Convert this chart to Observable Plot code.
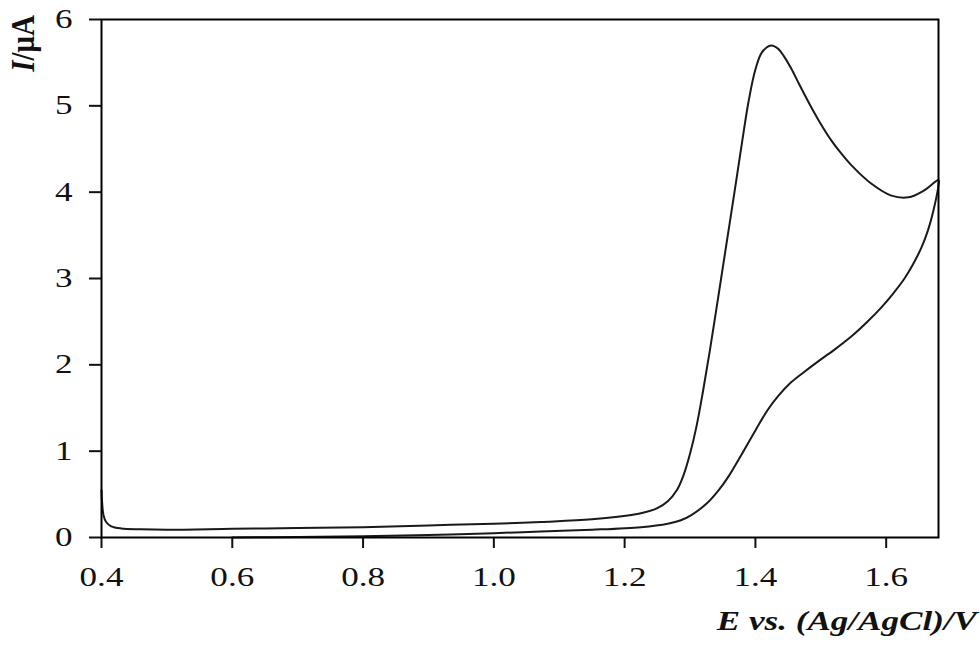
<!DOCTYPE html>
<html><head><meta charset="utf-8">
<script src="https://cdn.jsdelivr.net/npm/d3@7"></script>
<script src="https://cdn.jsdelivr.net/npm/@observablehq/plot@0.6"></script>
<style>body{margin:0;background:#fff}</style>
</head><body><div id="chart"></div>
<script>
// Forward (anodic) scan, 0.4 -> 1.68 V
const forwardE = [0.400, 0.401, 0.403, 0.407, 0.415, 0.430, 0.460, 0.500, 0.600, 0.700, 0.800, 0.900, 1.000, 1.072, 1.150, 1.225, 1.250, 1.266, 1.280, 1.290, 1.300, 1.310, 1.320, 1.330, 1.340, 1.350, 1.360, 1.370, 1.380, 1.390, 1.400, 1.410, 1.424, 1.435, 1.444, 1.455, 1.467, 1.485, 1.500, 1.516, 1.530, 1.547, 1.577, 1.608, 1.634, 1.658, 1.680];
const forwardI = [0.55, 0.40, 0.26, 0.18, 0.13, 0.105, 0.095, 0.09, 0.10, 0.11, 0.12, 0.14, 0.16, 0.18, 0.21, 0.28, 0.34, 0.42, 0.55, 0.72, 0.97, 1.29, 1.70, 2.15, 2.63, 3.12, 3.61, 4.10, 4.60, 5.07, 5.42, 5.62, 5.70, 5.66, 5.57, 5.43, 5.25, 4.99, 4.79, 4.60, 4.46, 4.31, 4.10, 3.96, 3.94, 4.02, 4.14];
// Reverse scan, 1.68 -> 0.6 V
const reverseE = [1.680, 1.672, 1.664, 1.654, 1.640, 1.628, 1.610, 1.592, 1.570, 1.547, 1.520, 1.496, 1.475, 1.455, 1.435, 1.419, 1.400, 1.378, 1.360, 1.343, 1.325, 1.302, 1.286, 1.266, 1.225, 1.150, 1.072, 1.000, 0.900, 0.800, 0.700, 0.600];
const reverseI = [4.08, 3.78, 3.56, 3.36, 3.15, 3.00, 2.82, 2.66, 2.49, 2.33, 2.17, 2.04, 1.92, 1.80, 1.64, 1.48, 1.24, 0.95, 0.72, 0.54, 0.39, 0.26, 0.20, 0.16, 0.12, 0.09, 0.07, 0.05, 0.03, 0.015, 0.005, 0.0];
const xTicks = [0.4, 0.6, 0.8, 1.0, 1.2, 1.4, 1.6];
const yTicks = [0, 1, 2, 3, 4, 5, 6];

const data = [
  ...forwardE.map((e, i) => ({E: e, I: forwardI[i]})),
  ...reverseE.map((e, i) => ({E: e, I: reverseI[i]}))
];

const font = '"Liberation Serif","Times New Roman",serif';
const chart = Plot.plot({
  width: 980, height: 647,
  marginLeft: 101, marginRight: 42, marginTop: 19, marginBottom: 110,
  style: {fontFamily: font, fontSize: "27px", color: "#111", background: "#fff"},
  x: {domain: [0.4, 1.68], label: null},
  y: {domain: [0, 6], label: null},
  marks: [
    Plot.axisX({ticks: xTicks, tickFormat: d3.format(".1f"), tickSize: 11, tickPadding: 18, strokeWidth: 2, label: null, fontSize: 27}),
    Plot.axisY({ticks: yTicks, tickFormat: d3.format("d"), tickSize: 12, tickPadding: 17, strokeWidth: 2, label: null, fontSize: 27}),
    Plot.line(data, {x: "E", y: "I", curve: "catmull-rom", stroke: "#1a1a1a", strokeWidth: 2}),
    Plot.frame({stroke: "#000", strokeWidth: 2})
  ]
});

const svg = d3.select(chart);
// the reference is horizontally stretched: widen the tick labels
svg.selectAll('g[aria-label="x-axis tick label"] text, g[aria-label="y-axis tick label"] text')
  .attr("transform", function() { return (this.getAttribute("transform") || "") + " scale(1.3,1)"; });

const yt = svg.append("text")
  .attr("transform", "translate(34,15) scale(1.15,1) rotate(-90)")
  .attr("text-anchor", "end")
  .attr("font-family", font).attr("font-size", 29).attr("font-weight", "bold").attr("fill", "#111");
yt.append("tspan").attr("font-style", "italic").text("I");
yt.append("tspan").text("/μA");

svg.append("text")
  .attr("transform", "translate(977,630) scale(1.3,1)")
  .attr("text-anchor", "end")
  .attr("font-family", font).attr("font-size", 27).attr("font-weight", "bold").attr("font-style", "italic").attr("fill", "#111")
  .text("E vs. (Ag/AgCl)/V");

document.getElementById("chart").appendChild(chart);
</script>
</body></html>
